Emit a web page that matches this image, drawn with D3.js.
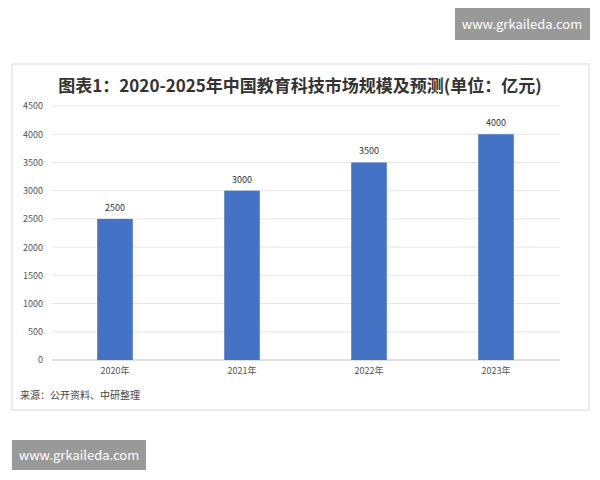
<!DOCTYPE html><html><head><meta charset="utf-8"><script src="https://cdn.jsdelivr.net/npm/d3@7"></script>
<style>body{margin:0;background:#fff}</style></head><body><svg id="c" width="600" height="480"></svg>
<script>
const categories=["2020年","2021年","2022年","2023年"];
const values=[2500,3000,3500,4000];
const ticks=[0,500,1000,1500,2000,2500,3000,3500,4000,4500];
const svg=d3.select("#c");
const f="'Noto Sans CJK SC','Noto Sans',sans-serif";
svg.append("rect").attr("x",12).attr("y",64).attr("width",577).attr("height",346).attr("fill","#fff").attr("stroke","#d9d9d9");
svg.append("text").attr("x",300).attr("y",92).attr("text-anchor","middle").attr("font-family",f).attr("font-size",17).attr("font-weight","bold").attr("fill","#333").text("图表1：2020-2025年中国教育科技市场规模及预测(单位：亿元)");
const y=d3.scaleLinear().domain([0,4500]).range([360,106]);
svg.append("g").selectAll("line").data(ticks.slice(1)).join("line").attr("x1",52).attr("x2",560).attr("y1",d=>y(d)).attr("y2",d=>y(d)).attr("stroke","#e6e6e6");
const ya=svg.append("g").attr("transform","translate(46,0)").call(d3.axisLeft(y).tickValues(ticks).tickSize(0).tickFormat(d3.format("d")));
ya.select(".domain").remove();ya.selectAll("text").attr("font-size",9).attr("fill","#555").attr("font-family",f);
svg.append("line").attr("x1",52).attr("x2",560).attr("y1",360).attr("y2",360).attr("stroke","#bfbfbf");
const x2=d3.scaleBand().domain(categories).range([51.5,559.5]).paddingInner(0.72).paddingOuter(0.36);
svg.selectAll(".b").data(values).join("rect").attr("x",(d,i)=>x2(categories[i])).attr("width",x2.bandwidth()).attr("y",d=>y(d)).attr("height",d=>360-y(d)).attr("fill","#4472c4");
svg.selectAll(".v").data(values).join("text").attr("x",(d,i)=>x2(categories[i])+x2.bandwidth()/2).attr("y",d=>y(d)-8).attr("text-anchor","middle").attr("font-size",9).attr("font-family",f).attr("fill","#333").text(d=>d);
const xa=svg.append("g").attr("transform","translate(0,360)").call(d3.axisBottom(x2).tickSize(0).tickPadding(8));
xa.select(".domain").remove();xa.selectAll("text").attr("font-size",9).attr("fill","#555").attr("font-family",f);
svg.append("text").attr("x",20).attr("y",399).attr("font-size",10).attr("font-family",f).attr("fill","#444").text("来源：公开资料、中研整理");
svg.append("rect").attr("x",455).attr("y",8).attr("width",135).attr("height",32).attr("fill","#999");
svg.append("text").attr("x",522).attr("y",29).attr("text-anchor","middle").attr("font-size",13).attr("font-family",f).attr("fill","#fff").text("www.grkaileda.com");
svg.append("rect").attr("x",12).attr("y",440).attr("width",134).attr("height",30).attr("fill","#999");
svg.append("text").attr("x",79).attr("y",460).attr("text-anchor","middle").attr("font-size",13).attr("font-family",f).attr("fill","#fff").text("www.grkaileda.com");
</script></body></html>
